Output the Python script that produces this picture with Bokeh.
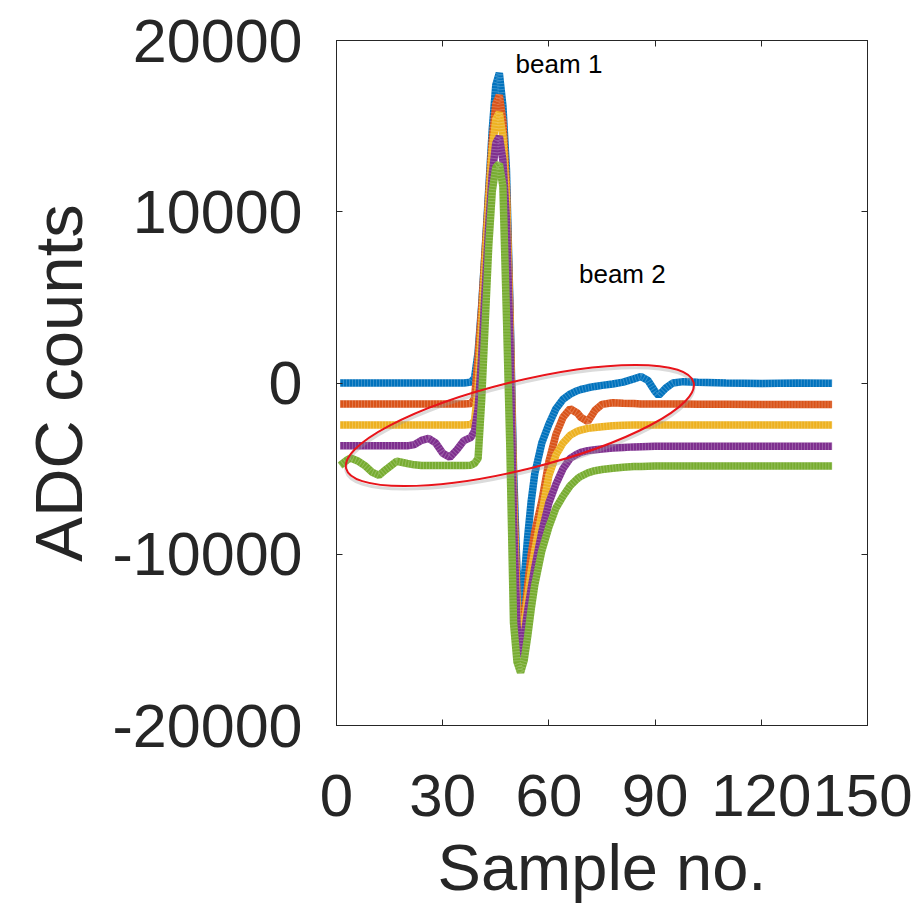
from bokeh.plotting import figure
from bokeh.models import LinearAxis, FixedTicker, Range1d
from bokeh.embed import file_html
from bokeh.resources import INLINE
from bokeh.core.properties import value
import math

# ---------------- data ----------------
samples = [1, 3, 4, 6, 8, 10, 12, 14, 17, 20,
           22, 24, 26, 28, 30, 32, 34, 36, 38, 39,
           40, 41, 42, 43, 44, 45, 46, 47, 48, 49, 50, 51, 52, 53, 54, 55, 56,
           58, 60, 62, 64, 66, 68, 69, 71, 73, 75,
           78, 81, 84, 86, 88, 90, 91, 93, 95, 98,
           102, 110, 120, 130, 140]

trace_blue = [0, 0, 0, 0, 0, 0, 0, 0, 0, 0,
              0, 0, 0, 0, 0, 0, 0, 0, 50, 300,
              1800, 4500, 7800, 11300, 14800, 17400, 18100, 16200, 12500, 4500, -5000, -11000, -14000, -11500, -9000, -6900, -5300,
              -3500, -2400, -1500, -950, -650, -450, -380, -280, -200, -140,
              -60, 50, 240, 380, 150, -500, -730, -300, 0, 80,
              50, 0, -30, 0, -20]

trace_orange = [-1220, -1220, -1220, -1220, -1220, -1220, -1220, -1220, -1220, -1220,
                -1220, -1220, -1220, -1220, -1220, -1220, -1220, -1220, -1200, -900,
                1500, 4300, 7700, 11000, 14200, 16300, 16800, 15300, 11500, 4000, -6000, -12500, -15300, -13800, -11800, -10000, -8700,
                -6900, -4600, -3000, -2000, -1500, -1750, -2000, -2250, -1600, -1250,
                -1150, -1180, -1200, -1220, -1220, -1220, -1220, -1220, -1230, -1230,
                -1240, -1240, -1250, -1250, -1250]

trace_yellow = [-2450, -2450, -2450, -2450, -2450, -2450, -2450, -2450, -2450, -2450,
                -2450, -2450, -2450, -2450, -2450, -2450, -2450, -2450, -2430, -2200,
                -300, 3300, 7000, 10500, 13600, 15400, 15800, 14400, 10800, 3500, -7000, -13300, -15500, -14200, -12500, -11000, -9800,
                -7600, -5400, -4200, -3500, -3050, -2820, -2750, -2650, -2600, -2550,
                -2500, -2470, -2450, -2450, -2450, -2450, -2450, -2450, -2450, -2450,
                -2450, -2450, -2450, -2450, -2450]

trace_purple = [-3670, -3670, -3670, -3670, -3670, -3670, -3670, -3670, -3670, -3670,
                -3600, -3350, -3230, -3500, -4100, -4340, -3900, -3360, -3170, -2800,
                -1500, 1500, 5500, 9200, 12200, 14000, 14400, 13000, 9500, 2500, -8000, -14200, -16000, -14800, -13300, -12000, -10800,
                -8700, -7000, -5900, -5000, -4400, -4150, -4050, -3950, -3900, -3850,
                -3800, -3760, -3730, -3720, -3710, -3700, -3700, -3700, -3700, -3700,
                -3700, -3700, -3700, -3700, -3700]

trace_green = [-4820, -4500, -4380, -4550, -4820, -5200, -5400, -5050, -4570, -4700,
               -4780, -4820, -4820, -4820, -4820, -4820, -4820, -4820, -4800, -4700,
               -4400, -1000, 3500, 8000, 11200, 12600, 12800, 11500, 4000, -4000, -14000, -16300, -16900, -16200, -14800, -13200, -11800,
               -9800, -8400, -7300, -6600, -6000, -5600, -5450, -5250, -5120, -5050,
               -4980, -4920, -4880, -4870, -4860, -4850, -4850, -4850, -4850, -4850,
               -4850, -4850, -4850, -4850, -4850]

traces = [trace_blue, trace_orange, trace_yellow, trace_purple, trace_green]
colors = ["#0072BD", "#D95319", "#EDB120", "#7E2F8E", "#77AC30"]

x_ticks = [0, 30, 60, 90, 120, 150]
x_tick_labels = ["0", "30", "60", "90", "120", "150"]
y_ticks = [-20000, -10000, 0, 10000, 20000]
y_tick_labels = ["-20000", "-10000", "0", "10000", "20000"]

x_label = "Sample no."
y_label = "ADC counts"

annotations = [("beam 1", 50.6, 18600), ("beam 2", 68.5, 6350)]
ellipse_center = (51.8, -2480)   # data coords
ellipse_size_px = (358, 88)      # screen px
ellipse_angle_deg = 13.9

FONT = "Liberation Sans"
TXT = "#262626"

p = figure(frame_width=531, frame_height=685,
           min_border_left=336, min_border_top=40, min_border_right=45, min_border_bottom=171,
           x_range=Range1d(0, 150), y_range=Range1d(-20000, 20000),
           output_backend="svg", toolbar_location=None)

p.background_fill_color = "white"
p.border_fill_color = "white"
p.outline_line_color = TXT
p.outline_line_width = 1
p.xgrid.visible = False
p.ygrid.visible = False

for tr, c in zip(traces, colors):
    p.line(samples, tr, line_color=c, line_width=7.5)
    p.line(samples, tr, line_color="white", line_alpha=0.22, line_width=7.5,
           line_dash="1 2")

# ellipse shadow + ellipse
p.ellipse(x=[ellipse_center[0]], y=[ellipse_center[1] - 170],
          width=ellipse_size_px[0], height=ellipse_size_px[1],
          width_units="screen", height_units="screen",
          angle=math.radians(ellipse_angle_deg),
          fill_color=None, line_color="#999999", line_alpha=0.35, line_width=3)
p.ellipse(x=[ellipse_center[0]], y=[ellipse_center[1]],
          width=ellipse_size_px[0], height=ellipse_size_px[1],
          width_units="screen", height_units="screen",
          angle=math.radians(ellipse_angle_deg),
          fill_color=None, line_color="#E8141B", line_width=2)

for t, tx, ty in annotations:
    p.text(x=[tx], y=[ty], text=[t], text_font=value(FONT), text_font_size="26px",
           text_color="black", text_align="left", text_baseline="alphabetic")

# axes styling
xa = p.xaxis[0]
ya = p.yaxis[0]
xa.ticker = FixedTicker(ticks=x_ticks)
ya.ticker = FixedTicker(ticks=y_ticks)
xa.major_label_overrides = dict(zip(x_ticks, x_tick_labels))
ya.major_label_overrides = dict(zip(y_ticks, y_tick_labels))
xa.axis_label = x_label
ya.axis_label = y_label

for ax, lsize, asize in ((xa, "60px", "65px"), (ya, "61px", "67px")):
    ax.major_tick_in = 6
    ax.major_tick_out = 0
    ax.minor_tick_line_color = None
    ax.axis_line_color = TXT
    ax.major_tick_line_color = TXT
    ax.major_label_text_font = FONT
    ax.major_label_text_font_size = lsize
    ax.major_label_text_color = TXT
    ax.axis_label_text_font = FONT
    ax.axis_label_text_font_size = asize
    ax.axis_label_text_color = TXT
    ax.axis_label_text_font_style = "normal"

xa.major_label_standoff = 49
xa.axis_label_standoff = 12
ya.major_label_standoff = 34
ya.axis_label_standoff = 14

# mirrored tick axes (box)
top = LinearAxis(ticker=FixedTicker(ticks=x_ticks))
right = LinearAxis(ticker=FixedTicker(ticks=y_ticks))
top.major_label_overrides = {t: "" for t in x_ticks}
right.major_label_overrides = {t: "" for t in y_ticks}
for ax in (top, right):
    ax.major_tick_in = 6
    ax.major_tick_out = 0
    ax.minor_tick_line_color = None
    ax.axis_line_color = TXT
    ax.major_tick_line_color = TXT
    ax.major_label_text_font_size = "1px"
    ax.major_label_standoff = 0
p.add_layout(top, "above")
p.add_layout(right, "right")

open("out.html", "w").write(file_html(p, INLINE))
